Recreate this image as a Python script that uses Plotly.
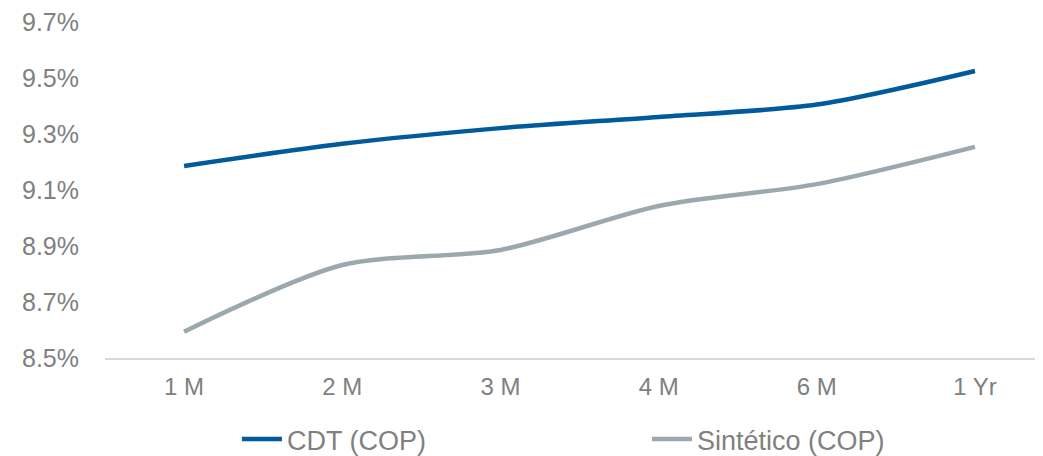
import plotly.graph_objects as go

tenors = ["1 M", "2 M", "3 M", "4 M", "6 M", "1 Yr"]
cdt_cop = [9.186, 9.265, 9.321, 9.361, 9.405, 9.525]
sintetico_cop = [8.594, 8.832, 8.886, 9.043, 9.121, 9.254]
y_ticks = [8.5, 8.7, 8.9, 9.1, 9.3, 9.5, 9.7]

fig = go.Figure()
fig.add_trace(go.Scatter(x=tenors, y=cdt_cop, name="CDT (COP)", mode="lines",
                         line=dict(color="#005A9C", width=4.5, shape="spline",
                                   smoothing=0.8)))
fig.add_trace(go.Scatter(x=tenors, y=sintetico_cop, name="Sintético (COP)",
                         mode="lines",
                         line=dict(color="#9BA8AE", width=4.5, shape="spline",
                                   smoothing=0.8)))

# page body has an 8px margin, so the figure is shifted by 8px
fig.update_layout(
    width=1035, height=456,
    margin=dict(l=97, r=0, t=14, b=106),
    plot_bgcolor="white", paper_bgcolor="white",
    font=dict(family="Liberation Sans, Arial, sans-serif", size=25,
              color="#808080"),
    showlegend=True,
    legend=dict(orientation="h", xref="container", yref="container",
                x=0.2212, y=0.0, xanchor="left", yanchor="bottom",
                entrywidth=355, entrywidthmode="pixels",
                font=dict(size=27, color="#808080"), itemwidth=40),
)
fig.update_xaxes(range=[-0.5, 5.43], showline=True, linecolor="#D9D9D9",
                 linewidth=1.5, showgrid=False, ticks="",
                 ticklabelstandoff=6, tickfont=dict(size=24))
fig.update_yaxes(range=[8.5, 9.7], tickvals=y_ticks,
                 ticktext=["{:.1f}%".format(v) for v in y_ticks],
                 showgrid=False, zeroline=False, showline=False, ticks="",
                 ticklabelstandoff=25, ticklabeloverflow="allow",
                 tickfont=dict(size=25))

fig.write_html("out.html")
